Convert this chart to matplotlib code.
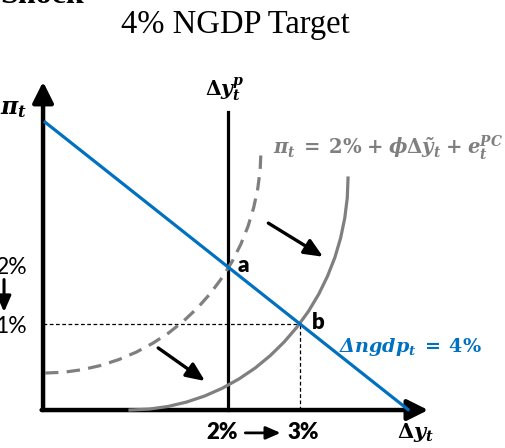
import matplotlib
matplotlib.use("Agg")
import matplotlib.pyplot as plt

plt.rcParams["mathtext.fontset"] = "dejavuserif"

# ---- model values (percent) ----
pi_target = 2.0
ngdp_target = 4.0
dy_potential = 2.0
dy_new = 3.0
pi_new = 1.0

# output growth range spanned by the NGDP line
ngdp_x = [-0.54, 4.50]

# original Phillips curve (dashed), points along the curve
pc_old_x = [-0.542, -0.281, -0.021, 0.235, 0.485, 0.726, 0.958, 1.179, 1.386, 1.579,
            1.757, 1.915, 2.057, 2.178, 2.278, 2.356, 2.413, 2.447, 2.458]
pc_old_y = [0.140, 0.154, 0.200, 0.274, 0.377, 0.507, 0.665, 0.847, 1.056, 1.286,
            1.539, 1.809, 2.096, 2.400, 2.714, 3.040, 3.374, 3.712, 4.053]

# Phillips curve after the shock (solid)
pc_new_x = [0.639, 0.903, 1.164, 1.422, 1.675, 1.918, 2.153, 2.375, 2.585, 2.779,
            2.958, 3.119, 3.261, 3.383, 3.485, 3.564, 3.621, 3.656, 3.667]
pc_new_y = [-0.509, -0.493, -0.447, -0.370, -0.263, -0.128, 0.037, 0.226, 0.444, 0.684,
            0.946, 1.226, 1.526, 1.842, 2.170, 2.509, 2.854, 3.207, 3.561]

# shift arrows: (x0, y0, x1, y1)
shift_arrows = [(1.03, 0.58, 1.68, 0.00), (2.56, 2.77, 3.32, 2.18)]

BLUE = "#0070C0"
GRAY = "#7F7F7F"

fig = plt.figure(figsize=(5.06, 4.48), dpi=100)
ax = fig.add_axes([0, 0, 1, 1])
ax.set_xlim(-1.167, 5.861)
ax.set_ylim(-1.175, 6.684)
ax.axis("off")

x_axis_y = -0.509
y_axis_x = -0.569

# axes with arrow heads
arrow_kw = dict(arrowstyle="-|>,head_width=0.35,head_length=0.7", lw=3.2, color="black",
                mutation_scale=18, shrinkA=0, shrinkB=0)
ax.annotate("", xy=(y_axis_x, 5.25), xytext=(y_axis_x, x_axis_y), arrowprops=arrow_kw)
ax.annotate("", xy=(4.78, x_axis_y), xytext=(y_axis_x - 0.02, x_axis_y), arrowprops=arrow_kw)

# potential output growth
ax.plot([dy_potential, dy_potential], [x_axis_y, 4.72], color="black", lw=2.3, zorder=3)

# guide lines to the new equilibrium
ax.plot([y_axis_x, dy_new], [pi_new, pi_new], color="black", lw=0.9, ls=(0, (3, 2)), zorder=2)
ax.plot([dy_new, dy_new], [x_axis_y, pi_new], color="black", lw=0.9, ls=(0, (3, 2)), zorder=2)

# Phillips curves
ax.plot(pc_old_x, pc_old_y, color=GRAY, lw=2.3, ls=(0, (4.2, 2.6)), zorder=4)
ax.plot(pc_new_x, pc_new_y, color=GRAY, lw=2.3, zorder=4)

# NGDP target line: pi + dy = 4
ax.plot(ngdp_x, [ngdp_target - x for x in ngdp_x], color=BLUE, lw=2.3, zorder=5)

for x0, y0, x1, y1 in shift_arrows:
    ax.annotate("", xy=(x1, y1), xytext=(x0, y0),
                arrowprops=dict(arrowstyle="-|>,head_width=0.35,head_length=0.8", lw=2.4,
                                color="black", mutation_scale=14, shrinkA=0, shrinkB=0))

# labels
fig.text(0.466, 0.944, "4% NGDP Target", family="Liberation Serif", fontsize=23.5,
         ha="center", va="center")
fig.text(0.0, 0.977, "Shock", family="Liberation Serif", fontsize=23, fontweight="bold",
         ha="left", va="bottom")

ax.text(-0.972, 4.79, r"$\mathbfit{\pi_t}$", fontsize=17, ha="center", va="center")
ax.text(1.95, 5.10, r"$\mathbf{\Delta}\mathbfit{y_t^p}$", fontsize=14.5, ha="center", va="center")
ax.text(-0.79, pi_target, "2%", fontsize=16.5, family="Lato", ha="right", va="center")
ax.text(-0.79, pi_new - 0.05, "1%", fontsize=16.5, family="Lato", ha="right", va="center")
ax.annotate("", xy=(-1.111, 1.21), xytext=(-1.111, 1.78),
            arrowprops=dict(arrowstyle="-|>,head_width=0.35,head_length=0.8", lw=2.2,
                            color="black", mutation_scale=12, shrinkA=0, shrinkB=0))

ax.text(2.14, 2.03, "a", fontsize=16, family="Lato", fontweight="heavy", ha="left", va="center")
ax.text(3.17, 1.03, "b", fontsize=16, family="Lato", fontweight="heavy", ha="left", va="center")

ax.text(3.54, 0.60, r"$\mathbfit{\Delta ngdp_t}\;\mathbf{=}\;\mathbf{4\%}$", fontsize=13.8,
        color=BLUE, ha="left", va="center")
ax.text(2.62, 4.10,
        r"$\mathbfit{\pi_t}\;\mathbf{=}\;\mathbf{2\%}\;\mathbf{+}\;\mathbfit{\phi}\mathbf{\Delta}"
        r"\mathbfit{\tilde{y}_t}\;\mathbf{+}\;\mathbfit{e_t^{PC}}$",
        fontsize=14.1, color=GRAY, ha="left", va="center")

ax.text(1.92, -0.91, "2%", fontsize=16, family="Lato", fontweight="heavy", ha="center", va="center")
ax.text(3.04, -0.91, "3%", fontsize=16, family="Lato", fontweight="heavy", ha="center", va="center")
ax.annotate("", xy=(2.73, -0.91), xytext=(2.24, -0.91),
            arrowprops=dict(arrowstyle="-|>,head_width=0.35,head_length=0.8", lw=2.0,
                            color="black", mutation_scale=11, shrinkA=0, shrinkB=0))
ax.text(4.60, -0.91, r"$\mathbf{\Delta}\mathbfit{y_t}$", fontsize=15, ha="center", va="center")

fig.savefig("out.png", dpi=100, facecolor="white")
